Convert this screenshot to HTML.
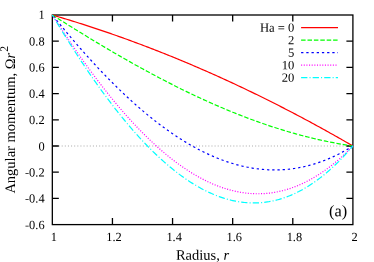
<!DOCTYPE html>
<html><head><meta charset="utf-8"><title>chart</title><style>html,body{margin:0;padding:0;background:#fff}svg{will-change:transform;text-rendering:geometricPrecision}</style></head><body><svg width="374" height="262" viewBox="0 0 374 262" style="display:block;font-family:'Liberation Serif',serif">
<rect width="374" height="262" fill="#fff"/>
<line x1="52.33" y1="146.00" x2="352.9" y2="146.00" stroke="#acacac" stroke-width="1.1" stroke-dasharray="1.04 2.08"/>
<rect x="52.33" y="15.0" width="300.57" height="209.60" fill="none" stroke="#000" stroke-width="1.3"/>
<path d="M52.33 41.20h6.5M352.9 41.20h-6.5M52.33 67.40h6.5M352.9 67.40h-6.5M52.33 93.60h6.5M352.9 93.60h-6.5M52.33 119.80h6.5M352.9 119.80h-6.5M52.33 146.00h6.5M352.9 146.00h-6.5M52.33 172.20h6.5M352.9 172.20h-6.5M52.33 198.40h6.5M352.9 198.40h-6.5M112.44 224.6v-6.5M112.44 15.0v6.5M172.56 224.6v-6.5M172.56 15.0v6.5M232.67 224.6v-6.5M232.67 15.0v6.5M292.79 224.6v-6.5M292.79 15.0v6.5" stroke="#000" stroke-width="1.3" fill="none"/>
<path d="M52.33,15.00 L53.83,15.44 L55.34,15.88 L56.84,16.32 L58.34,16.76 L59.84,17.21 L61.35,17.66 L62.85,18.11 L64.35,18.56 L65.86,19.02 L67.36,19.48 L68.86,19.94 L70.36,20.40 L71.87,20.86 L73.37,21.33 L74.87,21.80 L76.38,22.27 L77.88,22.74 L79.38,23.21 L80.88,23.69 L82.39,24.17 L83.89,24.65 L85.39,25.14 L86.90,25.62 L88.40,26.11 L89.90,26.60 L91.40,27.09 L92.91,27.59 L94.41,28.08 L95.91,28.58 L97.42,29.08 L98.92,29.59 L100.42,30.09 L101.92,30.60 L103.43,31.11 L104.93,31.62 L106.43,32.13 L107.94,32.65 L109.44,33.17 L110.94,33.69 L112.44,34.21 L113.95,34.74 L115.45,35.27 L116.95,35.80 L118.46,36.33 L119.96,36.86 L121.46,37.40 L122.96,37.93 L124.47,38.48 L125.97,39.02 L127.47,39.56 L128.98,40.11 L130.48,40.66 L131.98,41.21 L133.48,41.76 L134.99,42.32 L136.49,42.88 L137.99,43.44 L139.50,44.00 L141.00,44.56 L142.50,45.13 L144.00,45.70 L145.51,46.27 L147.01,46.84 L148.51,47.42 L150.02,48.00 L151.52,48.58 L153.02,49.16 L154.52,49.74 L156.03,50.33 L157.53,50.92 L159.03,51.51 L160.54,52.10 L162.04,52.69 L163.54,53.29 L165.04,53.89 L166.55,54.49 L168.05,55.10 L169.55,55.70 L171.06,56.31 L172.56,56.92 L174.06,57.53 L175.56,58.15 L177.07,58.76 L178.57,59.38 L180.07,60.00 L181.58,60.63 L183.08,61.25 L184.58,61.88 L186.08,62.51 L187.59,63.14 L189.09,63.78 L190.59,64.41 L192.10,65.05 L193.60,65.69 L195.10,66.34 L196.60,66.98 L198.11,67.63 L199.61,68.28 L201.11,68.93 L202.62,69.58 L204.12,70.24 L205.62,70.90 L207.12,71.56 L208.63,72.22 L210.13,72.89 L211.63,73.55 L213.13,74.22 L214.64,74.89 L216.14,75.57 L217.64,76.24 L219.15,76.92 L220.65,77.60 L222.15,78.28 L223.65,78.97 L225.16,79.65 L226.66,80.34 L228.16,81.03 L229.67,81.73 L231.17,82.42 L232.67,83.12 L234.17,83.82 L235.68,84.52 L237.18,85.23 L238.68,85.93 L240.19,86.64 L241.69,87.35 L243.19,88.06 L244.69,88.78 L246.20,89.50 L247.70,90.22 L249.20,90.94 L250.71,91.66 L252.21,92.39 L253.71,93.12 L255.21,93.85 L256.72,94.58 L258.22,95.31 L259.72,96.05 L261.23,96.79 L262.73,97.53 L264.23,98.27 L265.73,99.02 L267.24,99.77 L268.74,100.52 L270.24,101.27 L271.75,102.02 L273.25,102.78 L274.75,103.54 L276.25,104.30 L277.76,105.06 L279.26,105.83 L280.76,106.60 L282.27,107.36 L283.77,108.14 L285.27,108.91 L286.77,109.69 L288.28,110.47 L289.78,111.25 L291.28,112.03 L292.79,112.81 L294.29,113.60 L295.79,114.39 L297.29,115.18 L298.80,115.97 L300.30,116.77 L301.80,117.57 L303.31,118.37 L304.81,119.17 L306.31,119.98 L307.81,120.78 L309.32,121.59 L310.82,122.40 L312.32,123.22 L313.83,124.03 L315.33,124.85 L316.83,125.67 L318.33,126.49 L319.84,127.32 L321.34,128.14 L322.84,128.97 L324.35,129.80 L325.85,130.63 L327.35,131.47 L328.85,132.31 L330.36,133.15 L331.86,133.99 L333.36,134.83 L334.87,135.68 L336.37,136.53 L337.87,137.38 L339.37,138.23 L340.88,139.08 L342.38,139.94 L343.88,140.80 L345.39,141.66 L346.89,142.52 L348.39,143.39 L349.89,144.26 L351.40,145.13 L352.90,146.00" fill="none" stroke="#ff0000" stroke-width="1.2"/>
<path d="M52.33,15.00 L53.83,15.95 L55.34,16.90 L56.84,17.85 L58.34,18.80 L59.84,19.75 L61.35,20.70 L62.85,21.64 L64.35,22.58 L65.86,23.53 L67.36,24.47 L68.86,25.40 L70.36,26.34 L71.87,27.27 L73.37,28.21 L74.87,29.14 L76.38,30.07 L77.88,31.00 L79.38,31.92 L80.88,32.85 L82.39,33.77 L83.89,34.69 L85.39,35.61 L86.90,36.52 L88.40,37.44 L89.90,38.35 L91.40,39.26 L92.91,40.17 L94.41,41.07 L95.91,41.98 L97.42,42.88 L98.92,43.78 L100.42,44.68 L101.92,45.57 L103.43,46.47 L104.93,47.36 L106.43,48.25 L107.94,49.13 L109.44,50.02 L110.94,50.90 L112.44,51.78 L113.95,52.65 L115.45,53.53 L116.95,54.40 L118.46,55.27 L119.96,56.13 L121.46,57.00 L122.96,57.86 L124.47,58.72 L125.97,59.57 L127.47,60.43 L128.98,61.28 L130.48,62.13 L131.98,62.97 L133.48,63.81 L134.99,64.65 L136.49,65.49 L137.99,66.32 L139.50,67.16 L141.00,67.98 L142.50,68.81 L144.00,69.63 L145.51,70.45 L147.01,71.27 L148.51,72.08 L150.02,72.89 L151.52,73.70 L153.02,74.51 L154.52,75.31 L156.03,76.10 L157.53,76.90 L159.03,77.69 L160.54,78.48 L162.04,79.27 L163.54,80.05 L165.04,80.83 L166.55,81.60 L168.05,82.38 L169.55,83.15 L171.06,83.91 L172.56,84.68 L174.06,85.43 L175.56,86.19 L177.07,86.94 L178.57,87.69 L180.07,88.44 L181.58,89.18 L183.08,89.92 L184.58,90.65 L186.08,91.39 L187.59,92.11 L189.09,92.84 L190.59,93.56 L192.10,94.28 L193.60,94.99 L195.10,95.70 L196.60,96.40 L198.11,97.11 L199.61,97.81 L201.11,98.50 L202.62,99.19 L204.12,99.88 L205.62,100.56 L207.12,101.24 L208.63,101.92 L210.13,102.59 L211.63,103.26 L213.13,103.92 L214.64,104.58 L216.14,105.24 L217.64,105.89 L219.15,106.54 L220.65,107.18 L222.15,107.82 L223.65,108.46 L225.16,109.09 L226.66,109.72 L228.16,110.34 L229.67,110.96 L231.17,111.58 L232.67,112.19 L234.17,112.80 L235.68,113.40 L237.18,114.00 L238.68,114.59 L240.19,115.18 L241.69,115.77 L243.19,116.35 L244.69,116.93 L246.20,117.50 L247.70,118.07 L249.20,118.64 L250.71,119.20 L252.21,119.75 L253.71,120.30 L255.21,120.85 L256.72,121.39 L258.22,121.93 L259.72,122.46 L261.23,122.99 L262.73,123.51 L264.23,124.03 L265.73,124.55 L267.24,125.06 L268.74,125.57 L270.24,126.07 L271.75,126.56 L273.25,127.05 L274.75,127.54 L276.25,128.02 L277.76,128.50 L279.26,128.98 L280.76,129.44 L282.27,129.91 L283.77,130.37 L285.27,130.82 L286.77,131.27 L288.28,131.71 L289.78,132.15 L291.28,132.59 L292.79,133.02 L294.29,133.44 L295.79,133.86 L297.29,134.28 L298.80,134.69 L300.30,135.09 L301.80,135.49 L303.31,135.88 L304.81,136.27 L306.31,136.66 L307.81,137.04 L309.32,137.41 L310.82,137.78 L312.32,138.15 L313.83,138.51 L315.33,138.86 L316.83,139.21 L318.33,139.55 L319.84,139.89 L321.34,140.23 L322.84,140.56 L324.35,140.88 L325.85,141.20 L327.35,141.51 L328.85,141.82 L330.36,142.12 L331.86,142.41 L333.36,142.71 L334.87,142.99 L336.37,143.27 L337.87,143.55 L339.37,143.82 L340.88,144.08 L342.38,144.34 L343.88,144.59 L345.39,144.84 L346.89,145.08 L348.39,145.32 L349.89,145.55 L351.40,145.78 L352.90,146.00" fill="none" stroke="#00ff00" stroke-width="1.2" stroke-dasharray="4.5 1.9"/>
<path d="M52.33,15.00 L53.83,16.86 L55.34,18.72 L56.84,20.57 L58.34,22.41 L59.84,24.24 L61.35,26.06 L62.85,27.88 L64.35,29.69 L65.86,31.48 L67.36,33.28 L68.86,35.06 L70.36,36.83 L71.87,38.60 L73.37,40.36 L74.87,42.11 L76.38,43.85 L77.88,45.58 L79.38,47.30 L80.88,49.01 L82.39,50.72 L83.89,52.41 L85.39,54.10 L86.90,55.78 L88.40,57.44 L89.90,59.10 L91.40,60.75 L92.91,62.39 L94.41,64.02 L95.91,65.64 L97.42,67.25 L98.92,68.85 L100.42,70.44 L101.92,72.02 L103.43,73.59 L104.93,75.15 L106.43,76.70 L107.94,78.24 L109.44,79.76 L110.94,81.28 L112.44,82.79 L113.95,84.29 L115.45,85.77 L116.95,87.25 L118.46,88.71 L119.96,90.17 L121.46,91.61 L122.96,93.04 L124.47,94.46 L125.97,95.87 L127.47,97.27 L128.98,98.66 L130.48,100.04 L131.98,101.40 L133.48,102.75 L134.99,104.10 L136.49,105.43 L137.99,106.74 L139.50,108.05 L141.00,109.35 L142.50,110.63 L144.00,111.90 L145.51,113.16 L147.01,114.40 L148.51,115.64 L150.02,116.86 L151.52,118.07 L153.02,119.27 L154.52,120.46 L156.03,121.63 L157.53,122.79 L159.03,123.94 L160.54,125.07 L162.04,126.19 L163.54,127.30 L165.04,128.40 L166.55,129.49 L168.05,130.56 L169.55,131.61 L171.06,132.66 L172.56,133.69 L174.06,134.71 L175.56,135.72 L177.07,136.71 L178.57,137.69 L180.07,138.65 L181.58,139.60 L183.08,140.54 L184.58,141.47 L186.08,142.38 L187.59,143.28 L189.09,144.16 L190.59,145.03 L192.10,145.88 L193.60,146.73 L195.10,147.55 L196.60,148.37 L198.11,149.17 L199.61,149.95 L201.11,150.72 L202.62,151.48 L204.12,152.22 L205.62,152.95 L207.12,153.66 L208.63,154.36 L210.13,155.05 L211.63,155.72 L213.13,156.37 L214.64,157.01 L216.14,157.64 L217.64,158.25 L219.15,158.85 L220.65,159.43 L222.15,159.99 L223.65,160.54 L225.16,161.08 L226.66,161.60 L228.16,162.11 L229.67,162.60 L231.17,163.07 L232.67,163.53 L234.17,163.97 L235.68,164.40 L237.18,164.82 L238.68,165.21 L240.19,165.59 L241.69,165.96 L243.19,166.31 L244.69,166.64 L246.20,166.96 L247.70,167.27 L249.20,167.55 L250.71,167.82 L252.21,168.08 L253.71,168.32 L255.21,168.54 L256.72,168.74 L258.22,168.93 L259.72,169.11 L261.23,169.26 L262.73,169.40 L264.23,169.53 L265.73,169.64 L267.24,169.73 L268.74,169.80 L270.24,169.86 L271.75,169.90 L273.25,169.92 L274.75,169.93 L276.25,169.92 L277.76,169.90 L279.26,169.85 L280.76,169.79 L282.27,169.72 L283.77,169.62 L285.27,169.51 L286.77,169.38 L288.28,169.24 L289.78,169.07 L291.28,168.89 L292.79,168.69 L294.29,168.48 L295.79,168.25 L297.29,168.00 L298.80,167.73 L300.30,167.44 L301.80,167.14 L303.31,166.82 L304.81,166.48 L306.31,166.12 L307.81,165.75 L309.32,165.36 L310.82,164.95 L312.32,164.52 L313.83,164.07 L315.33,163.61 L316.83,163.13 L318.33,162.63 L319.84,162.11 L321.34,161.57 L322.84,161.01 L324.35,160.44 L325.85,159.85 L327.35,159.24 L328.85,158.61 L330.36,157.96 L331.86,157.30 L333.36,156.61 L334.87,155.91 L336.37,155.19 L337.87,154.45 L339.37,153.69 L340.88,152.91 L342.38,152.11 L343.88,151.30 L345.39,150.46 L346.89,149.61 L348.39,148.73 L349.89,147.84 L351.40,146.93 L352.90,146.00" fill="none" stroke="#0000ff" stroke-width="1.2" stroke-dasharray="2.3 2.9" stroke-dashoffset="-1.5"/>
<path d="M52.33,15.00 L53.83,17.34 L55.34,19.68 L56.84,22.00 L58.34,24.31 L59.84,26.61 L61.35,28.90 L62.85,31.17 L64.35,33.44 L65.86,35.69 L67.36,37.93 L68.86,40.16 L70.36,42.38 L71.87,44.59 L73.37,46.78 L74.87,48.96 L76.38,51.13 L77.88,53.28 L79.38,55.43 L80.88,57.56 L82.39,59.68 L83.89,61.78 L85.39,63.87 L86.90,65.95 L88.40,68.02 L89.90,70.07 L91.40,72.11 L92.91,74.13 L94.41,76.14 L95.91,78.14 L97.42,80.13 L98.92,82.10 L100.42,84.05 L101.92,85.99 L103.43,87.92 L104.93,89.83 L106.43,91.73 L107.94,93.62 L109.44,95.49 L110.94,97.34 L112.44,99.18 L113.95,101.01 L115.45,102.82 L116.95,104.61 L118.46,106.39 L119.96,108.15 L121.46,109.90 L122.96,111.64 L124.47,113.36 L125.97,115.06 L127.47,116.75 L128.98,118.42 L130.48,120.07 L131.98,121.71 L133.48,123.33 L134.99,124.94 L136.49,126.53 L137.99,128.10 L139.50,129.66 L141.00,131.20 L142.50,132.73 L144.00,134.24 L145.51,135.73 L147.01,137.20 L148.51,138.66 L150.02,140.10 L151.52,141.52 L153.02,142.93 L154.52,144.31 L156.03,145.69 L157.53,147.04 L159.03,148.38 L160.54,149.69 L162.04,150.99 L163.54,152.28 L165.04,153.54 L166.55,154.79 L168.05,156.02 L169.55,157.23 L171.06,158.42 L172.56,159.59 L174.06,160.75 L175.56,161.89 L177.07,163.01 L178.57,164.11 L180.07,165.19 L181.58,166.25 L183.08,167.30 L184.58,168.32 L186.08,169.33 L187.59,170.31 L189.09,171.28 L190.59,172.23 L192.10,173.16 L193.60,174.07 L195.10,174.96 L196.60,175.83 L198.11,176.68 L199.61,177.51 L201.11,178.32 L202.62,179.11 L204.12,179.89 L205.62,180.64 L207.12,181.37 L208.63,182.08 L210.13,182.77 L211.63,183.44 L213.13,184.09 L214.64,184.72 L216.14,185.33 L217.64,185.92 L219.15,186.49 L220.65,187.04 L222.15,187.56 L223.65,188.07 L225.16,188.55 L226.66,189.02 L228.16,189.46 L229.67,189.88 L231.17,190.28 L232.67,190.66 L234.17,191.02 L235.68,191.35 L237.18,191.67 L238.68,191.96 L240.19,192.23 L241.69,192.48 L243.19,192.71 L244.69,192.92 L246.20,193.10 L247.70,193.26 L249.20,193.40 L250.71,193.52 L252.21,193.62 L253.71,193.69 L255.21,193.74 L256.72,193.77 L258.22,193.77 L259.72,193.76 L261.23,193.72 L262.73,193.66 L264.23,193.57 L265.73,193.46 L267.24,193.33 L268.74,193.18 L270.24,193.00 L271.75,192.80 L273.25,192.58 L274.75,192.33 L276.25,192.07 L277.76,191.77 L279.26,191.46 L280.76,191.12 L282.27,190.75 L283.77,190.37 L285.27,189.96 L286.77,189.52 L288.28,189.07 L289.78,188.58 L291.28,188.08 L292.79,187.55 L294.29,187.00 L295.79,186.42 L297.29,185.82 L298.80,185.19 L300.30,184.54 L301.80,183.86 L303.31,183.17 L304.81,182.44 L306.31,181.69 L307.81,180.92 L309.32,180.12 L310.82,179.30 L312.32,178.45 L313.83,177.58 L315.33,176.69 L316.83,175.76 L318.33,174.82 L319.84,173.85 L321.34,172.85 L322.84,171.83 L324.35,170.78 L325.85,169.71 L327.35,168.61 L328.85,167.48 L330.36,166.34 L331.86,165.16 L333.36,163.96 L334.87,162.73 L336.37,161.48 L337.87,160.21 L339.37,158.90 L340.88,157.57 L342.38,156.22 L343.88,154.84 L345.39,153.43 L346.89,152.00 L348.39,150.54 L349.89,149.05 L351.40,147.54 L352.90,146.00" fill="none" stroke="#ff00ff" stroke-width="1.2" stroke-dasharray="1.06 1.585"/>
<path d="M52.33,15.00 L53.83,17.52 L55.34,20.03 L56.84,22.52 L58.34,25.00 L59.84,27.47 L61.35,29.93 L62.85,32.38 L64.35,34.81 L65.86,37.23 L67.36,39.63 L68.86,42.03 L70.36,44.41 L71.87,46.77 L73.37,49.12 L74.87,51.46 L76.38,53.79 L77.88,56.10 L79.38,58.40 L80.88,60.68 L82.39,62.95 L83.89,65.20 L85.39,67.44 L86.90,69.67 L88.40,71.88 L89.90,74.07 L91.40,76.25 L92.91,78.42 L94.41,80.57 L95.91,82.71 L97.42,84.83 L98.92,86.93 L100.42,89.02 L101.92,91.10 L103.43,93.15 L104.93,95.20 L106.43,97.22 L107.94,99.23 L109.44,101.23 L110.94,103.20 L112.44,105.17 L113.95,107.11 L115.45,109.04 L116.95,110.95 L118.46,112.84 L119.96,114.72 L121.46,116.58 L122.96,118.43 L124.47,120.25 L125.97,122.06 L127.47,123.86 L128.98,125.63 L130.48,127.39 L131.98,129.13 L133.48,130.85 L134.99,132.55 L136.49,134.24 L137.99,135.90 L139.50,137.55 L141.00,139.18 L142.50,140.80 L144.00,142.39 L145.51,143.97 L147.01,145.52 L148.51,147.06 L150.02,148.58 L151.52,150.08 L153.02,151.56 L154.52,153.03 L156.03,154.47 L157.53,155.89 L159.03,157.30 L160.54,158.68 L162.04,160.05 L163.54,161.40 L165.04,162.72 L166.55,164.03 L168.05,165.31 L169.55,166.58 L171.06,167.83 L172.56,169.05 L174.06,170.26 L175.56,171.45 L177.07,172.61 L178.57,173.75 L180.07,174.88 L181.58,175.98 L183.08,177.06 L184.58,178.13 L186.08,179.17 L187.59,180.19 L189.09,181.18 L190.59,182.16 L192.10,183.12 L193.60,184.05 L195.10,184.96 L196.60,185.86 L198.11,186.73 L199.61,187.57 L201.11,188.40 L202.62,189.20 L204.12,189.99 L205.62,190.75 L207.12,191.48 L208.63,192.20 L210.13,192.89 L211.63,193.57 L213.13,194.21 L214.64,194.84 L216.14,195.44 L217.64,196.03 L219.15,196.58 L220.65,197.12 L222.15,197.63 L223.65,198.12 L225.16,198.59 L226.66,199.03 L228.16,199.45 L229.67,199.85 L231.17,200.22 L232.67,200.57 L234.17,200.89 L235.68,201.20 L237.18,201.48 L238.68,201.73 L240.19,201.96 L241.69,202.17 L243.19,202.35 L244.69,202.51 L246.20,202.64 L247.70,202.76 L249.20,202.84 L250.71,202.90 L252.21,202.94 L253.71,202.95 L255.21,202.94 L256.72,202.91 L258.22,202.84 L259.72,202.76 L261.23,202.65 L262.73,202.51 L264.23,202.35 L265.73,202.16 L267.24,201.95 L268.74,201.72 L270.24,201.45 L271.75,201.17 L273.25,200.85 L274.75,200.51 L276.25,200.15 L277.76,199.76 L279.26,199.35 L280.76,198.90 L282.27,198.44 L283.77,197.94 L285.27,197.42 L286.77,196.88 L288.28,196.31 L289.78,195.71 L291.28,195.08 L292.79,194.43 L294.29,193.76 L295.79,193.05 L297.29,192.32 L298.80,191.57 L300.30,190.78 L301.80,189.97 L303.31,189.13 L304.81,188.27 L306.31,187.38 L307.81,186.46 L309.32,185.52 L310.82,184.54 L312.32,183.54 L313.83,182.52 L315.33,181.46 L316.83,180.38 L318.33,179.27 L319.84,178.13 L321.34,176.97 L322.84,175.77 L324.35,174.55 L325.85,173.31 L327.35,172.03 L328.85,170.73 L330.36,169.39 L331.86,168.03 L333.36,166.64 L334.87,165.23 L336.37,163.78 L337.87,162.31 L339.37,160.81 L340.88,159.28 L342.38,157.72 L343.88,156.13 L345.39,154.51 L346.89,152.87 L348.39,151.19 L349.89,149.49 L351.40,147.76 L352.90,146.00" fill="none" stroke="#00ffff" stroke-width="1.2" stroke-dasharray="6.3 2.1 1.05 2.1" stroke-dashoffset="3.7"/>
<text transform="matrix(1,0.0005,0,1.0,44.6,18.80)" font-size="12.4" text-anchor="end">1</text>
<text transform="matrix(1,0.0005,0,1.0,44.6,45.40)" font-size="12.4" text-anchor="end">0.8</text>
<text transform="matrix(1,0.0005,0,1.0,44.6,71.60)" font-size="12.4" text-anchor="end">0.6</text>
<text transform="matrix(1,0.0005,0,1.0,44.6,97.80)" font-size="12.4" text-anchor="end">0.4</text>
<text transform="matrix(1,0.0005,0,1.0,44.6,124.00)" font-size="12.4" text-anchor="end">0.2</text>
<text transform="matrix(1,0.0005,0,1.0,44.6,150.50)" font-size="12.4" text-anchor="end">0</text>
<text transform="matrix(1,0.0005,0,1.0,44.6,176.40)" font-size="12.4" text-anchor="end">-0.2</text>
<text transform="matrix(1,0.0005,0,1.0,44.6,202.60)" font-size="12.4" text-anchor="end">-0.4</text>
<text transform="matrix(1,0.0005,0,1.0,44.6,229.10)" font-size="12.4" text-anchor="end">-0.6</text>
<text transform="matrix(1,0.0005,0,1.0,53.93,240.9)" font-size="12.4" text-anchor="middle">1</text>
<text transform="matrix(1,0.0005,0,1.0,114.04,240.9)" font-size="12.4" text-anchor="middle">1.2</text>
<text transform="matrix(1,0.0005,0,1.0,174.16,240.9)" font-size="12.4" text-anchor="middle">1.4</text>
<text transform="matrix(1,0.0005,0,1.0,234.27,240.9)" font-size="12.4" text-anchor="middle">1.6</text>
<text transform="matrix(1,0.0005,0,1.0,294.39,240.9)" font-size="12.4" text-anchor="middle">1.8</text>
<text transform="matrix(1,0.0005,0,1.0,354.50,240.9)" font-size="12.4" text-anchor="middle">2</text>
<text transform="matrix(1,0.0005,0,1,202.5,259.7)" font-size="14.5" text-anchor="middle">Radius, <tspan font-style="italic">r</tspan></text>
<text transform="translate(14.7,193.6) rotate(-90)" font-size="14.5">Angular momentum, &#937;<tspan font-style="italic">r</tspan><tspan font-size="11.60" dx="0.9" dy="-7.0">2</tspan></text>
<text transform="matrix(1,0.0005,0,1.0,294.35,31.80)" font-size="12.6" text-anchor="end">Ha = 0</text>
<line x1="301.1" y1="27.55" x2="338.0" y2="27.55" stroke="#ff0000" stroke-width="1.2"/>
<text transform="matrix(1,0.0005,0,1.0,294.35,44.30)" font-size="12.6" text-anchor="end">2</text>
<line x1="301.1" y1="40.05" x2="338.0" y2="40.05" stroke="#00ff00" stroke-width="1.2" stroke-dasharray="4.5 1.9"/>
<text transform="matrix(1,0.0005,0,1.0,294.35,56.80)" font-size="12.6" text-anchor="end">5</text>
<line x1="301.1" y1="52.55" x2="338.0" y2="52.55" stroke="#0000ff" stroke-width="1.2" stroke-dasharray="2.3 2.9"/>
<text transform="matrix(1,0.0005,0,1.0,294.35,69.30)" font-size="12.6" text-anchor="end">10</text>
<line x1="301.1" y1="65.05" x2="338.0" y2="65.05" stroke="#ff00ff" stroke-width="1.2" stroke-dasharray="1.06 1.585"/>
<text transform="matrix(1,0.0005,0,1.0,294.35,81.80)" font-size="12.6" text-anchor="end">20</text>
<line x1="301.1" y1="77.55" x2="338.0" y2="77.55" stroke="#00ffff" stroke-width="1.2" stroke-dasharray="6.3 2.1 1.05 2.1"/>
<text transform="matrix(1,0.0005,0,1,329.0,216.3)" font-size="16.4">(a)</text>
</svg></body></html>
